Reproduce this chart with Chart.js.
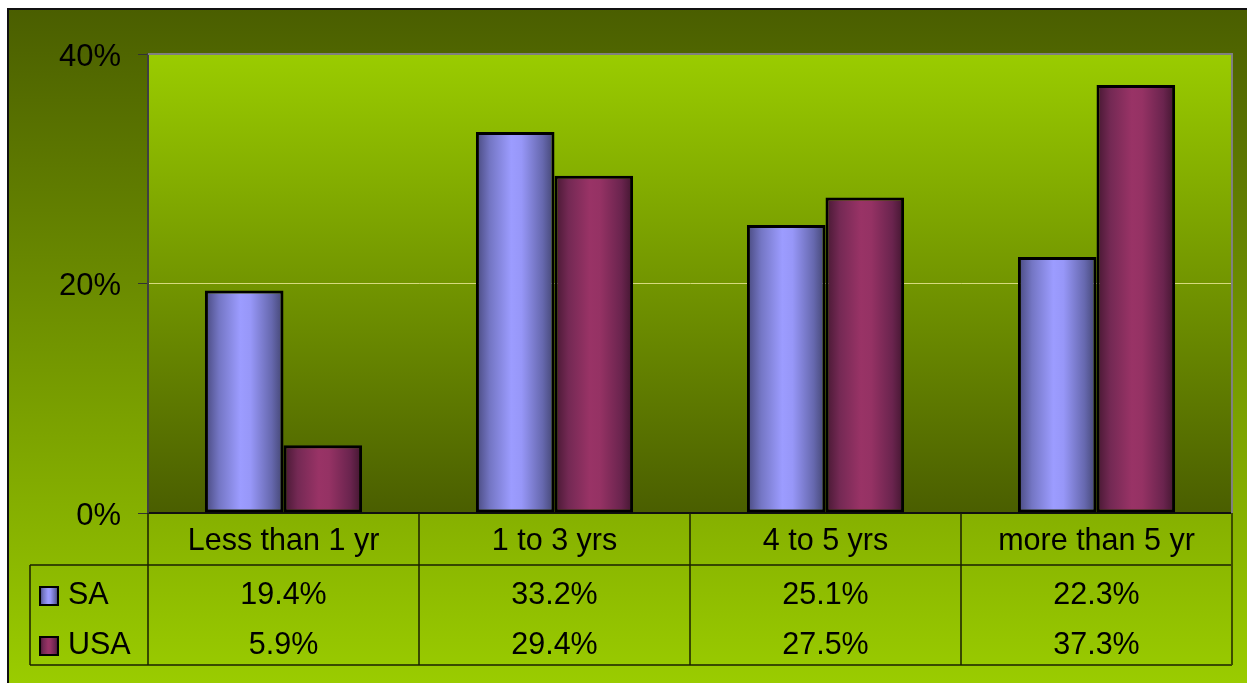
<!DOCTYPE html>
<html>
<head>
<meta charset="utf-8">
<script src="https://cdn.jsdelivr.net/npm/chart.js@4/dist/chart.umd.min.js"></script>
<style>
  html, body { margin: 0; padding: 0; background: #ffffff; }
  canvas { display: block; }
</style>
</head>
<body>
<canvas id="chart" width="1247" height="683"></canvas>
<script>
// Years-of-experience share, SA vs USA
const categories = ['Less than 1 yr', '1 to 3 yrs', '4 to 5 yrs', 'more than 5 yr'];
const seriesNames = ['SA', 'USA'];
const saValues = [19.4, 33.2, 25.1, 22.3];
const usaValues = [5.9, 29.4, 27.5, 37.3];
const yTicks = [0, 20, 40];

const FONT = '"Liberation Sans", Arial, sans-serif';
const CAT_PCT = 0.58;

// Cylinder-like horizontal shading for each series
const saStops = [[0, '#48497e'], [0.18, '#7476c4'], [0.45, '#9c9cff'], [0.58, '#9797f8'], [0.85, '#6668ae'], [1, '#424470']];
const usaStops = [[0, '#461832'], [0.18, '#742954'], [0.45, '#993366'], [0.58, '#953264'], [0.85, '#6a244e'], [1, '#41162f']];
const seriesStops = [saStops, usaStops];

function shade(ctx, left, width, stops) {
  const g = ctx.createLinearGradient(left, 0, left + width, 0);
  stops.forEach(([o, c]) => g.addColorStop(o, c));
  return g;
}

function barFill(c) {
  const chart = c.chart;
  const xs = chart.scales.x;
  const stops = seriesStops[c.datasetIndex];
  if (!xs || !chart.chartArea || c.dataIndex === undefined) return stops[2][1];
  const cat = xs.width / categories.length;
  const group = cat * CAT_PCT;
  const barW = group / 2;
  const center = xs.getPixelForValue(c.dataIndex);
  const left = center - group / 2 + c.datasetIndex * barW;
  return shade(chart.ctx, left, barW, stops);
}

// Frame, outer and plot-area gradients
const backdrop = {
  id: 'backdrop',
  beforeDraw(chart) {
    const ctx = chart.ctx;
    const { width, height, chartArea: a } = chart;
    ctx.save();
    ctx.fillStyle = '#ffffff';
    ctx.fillRect(0, 0, width, height);
    const og = ctx.createLinearGradient(0, 8, 0, height);
    og.addColorStop(0, '#4a5e00');
    og.addColorStop(1, '#9acc00');
    ctx.fillStyle = og;
    ctx.fillRect(8, 8, width - 8, height - 8);
    ctx.strokeStyle = '#111111';
    ctx.lineWidth = 2;
    ctx.beginPath();
    ctx.moveTo(8, height);
    ctx.lineTo(8, 9);
    ctx.lineTo(width, 9);
    ctx.stroke();
    const pg = ctx.createLinearGradient(0, a.top, 0, a.bottom);
    pg.addColorStop(0, '#9acc00');
    pg.addColorStop(1, '#4a5e00');
    ctx.fillStyle = pg;
    ctx.fillRect(a.left, a.top, a.right - a.left, a.bottom - a.top);
    ctx.restore();
  },
  beforeDatasetsDraw(chart) {
    const ctx = chart.ctx;
    const a = chart.chartArea;
    ctx.save();
    ctx.strokeStyle = '#808080';
    ctx.lineWidth = 2;
    ctx.beginPath();
    ctx.moveTo(a.left, a.top);
    ctx.lineTo(a.right, a.top);
    ctx.lineTo(a.right, a.bottom);
    ctx.stroke();
    ctx.restore();
  }
};

// Data table under the axis: category row, one row per series
const dataTable = {
  id: 'dataTable',
  afterDraw(chart) {
    const ctx = chart.ctx;
    const a = chart.chartArea;
    const xs = chart.scales.x;
    const n = categories.length;
    const colW = (a.right - a.left) / n;
    const tableLeft = 30;
    const rowTop = a.bottom;
    const catBottom = 565;
    const tableBottom = 665;
    const rows = [saValues, usaValues];
    const rowBase = [604, 654];

    ctx.save();
    ctx.strokeStyle = '#1a2000';
    ctx.lineWidth = 1.5;
    ctx.beginPath();
    ctx.moveTo(tableLeft, catBottom);
    ctx.lineTo(a.right, catBottom);
    ctx.moveTo(tableLeft, tableBottom);
    ctx.lineTo(a.right, tableBottom);
    ctx.moveTo(tableLeft, catBottom);
    ctx.lineTo(tableLeft, tableBottom);
    for (let i = 0; i < n; i++) {
      const x = a.left + i * colW;
      ctx.moveTo(x, rowTop);
      ctx.lineTo(x, tableBottom);
    }
    ctx.stroke();
    ctx.strokeStyle = '#3d4d00';
    ctx.lineWidth = 2;
    ctx.beginPath();
    ctx.moveTo(a.right, rowTop);
    ctx.lineTo(a.right, tableBottom);
    ctx.stroke();

    ctx.fillStyle = '#000000';
    ctx.font = '30.5px ' + FONT;
    ctx.textBaseline = 'alphabetic';
    ctx.textAlign = 'center';
    categories.forEach((c, i) => {
      const cx = xs.getPixelForValue(i);
      ctx.fillText(c, cx, 550);
    });
    rows.forEach((vals, r) => {
      vals.forEach((v, i) => {
        const cx = xs.getPixelForValue(i);
        ctx.fillText(v.toFixed(1) + '%', cx, rowBase[r]);
      });
    });

    // legend keys
    ctx.textAlign = 'left';
    seriesNames.forEach((name, r) => {
      const ky = rowBase[r] - 17;
      ctx.fillStyle = shade(ctx, 40, 18, seriesStops[r]);
      ctx.fillRect(40, ky, 18, 18);
      ctx.strokeStyle = '#000000';
      ctx.lineWidth = 2;
      ctx.strokeRect(40, ky, 18, 18);
      ctx.fillStyle = '#000000';
      ctx.fillText(name, 68, rowBase[r]);
    });
    ctx.restore();
  }
};

const barStyle = {
  backgroundColor: barFill,
  borderColor: '#000000',
  borderWidth: 3,
  borderSkipped: false,
  categoryPercentage: CAT_PCT,
  barPercentage: 1
};

new Chart(document.getElementById('chart'), {
  type: 'bar',
  data: {
    labels: categories,
    datasets: [
      Object.assign({ label: seriesNames[0], data: saValues }, barStyle),
      Object.assign({ label: seriesNames[1], data: usaValues }, barStyle)
    ]
  },
  options: {
    responsive: false,
    animation: false,
    events: [],
    layout: { padding: { left: 0, top: 54, right: 15, bottom: 0 } },
    plugins: {
      legend: { display: false },
      tooltip: { enabled: false },
      colors: { enabled: false }
    },
    scales: {
      x: {
        ticks: { display: false },
        grid: { display: false },
        border: { display: true, color: '#111111', width: 2 },
        afterFit(scale) { scale.height = 170; }
      },
      y: {
        min: 0,
        max: 40,
        afterBuildTicks(scale) { scale.ticks = yTicks.map(v => ({ value: v })); },
        ticks: {
          callback: v => v + '%',
          color: '#000000',
          font: { family: FONT, size: 31 },
          padding: 17,
          labelOffset: 3
        },
        grid: {
          color: c => (c.tick && c.tick.value === 20 ? 'rgba(225,225,140,0.9)' : 'rgba(0,0,0,0)'),
          lineWidth: 1,
          tickColor: '#333333',
          tickLength: 10,
          drawTicks: true
        },
        border: { display: true, color: '#404040', width: 2 },
        afterFit(scale) { scale.width = 148; }
      }
    }
  },
  plugins: [backdrop, dataTable]
});
</script>
</body>
</html>
